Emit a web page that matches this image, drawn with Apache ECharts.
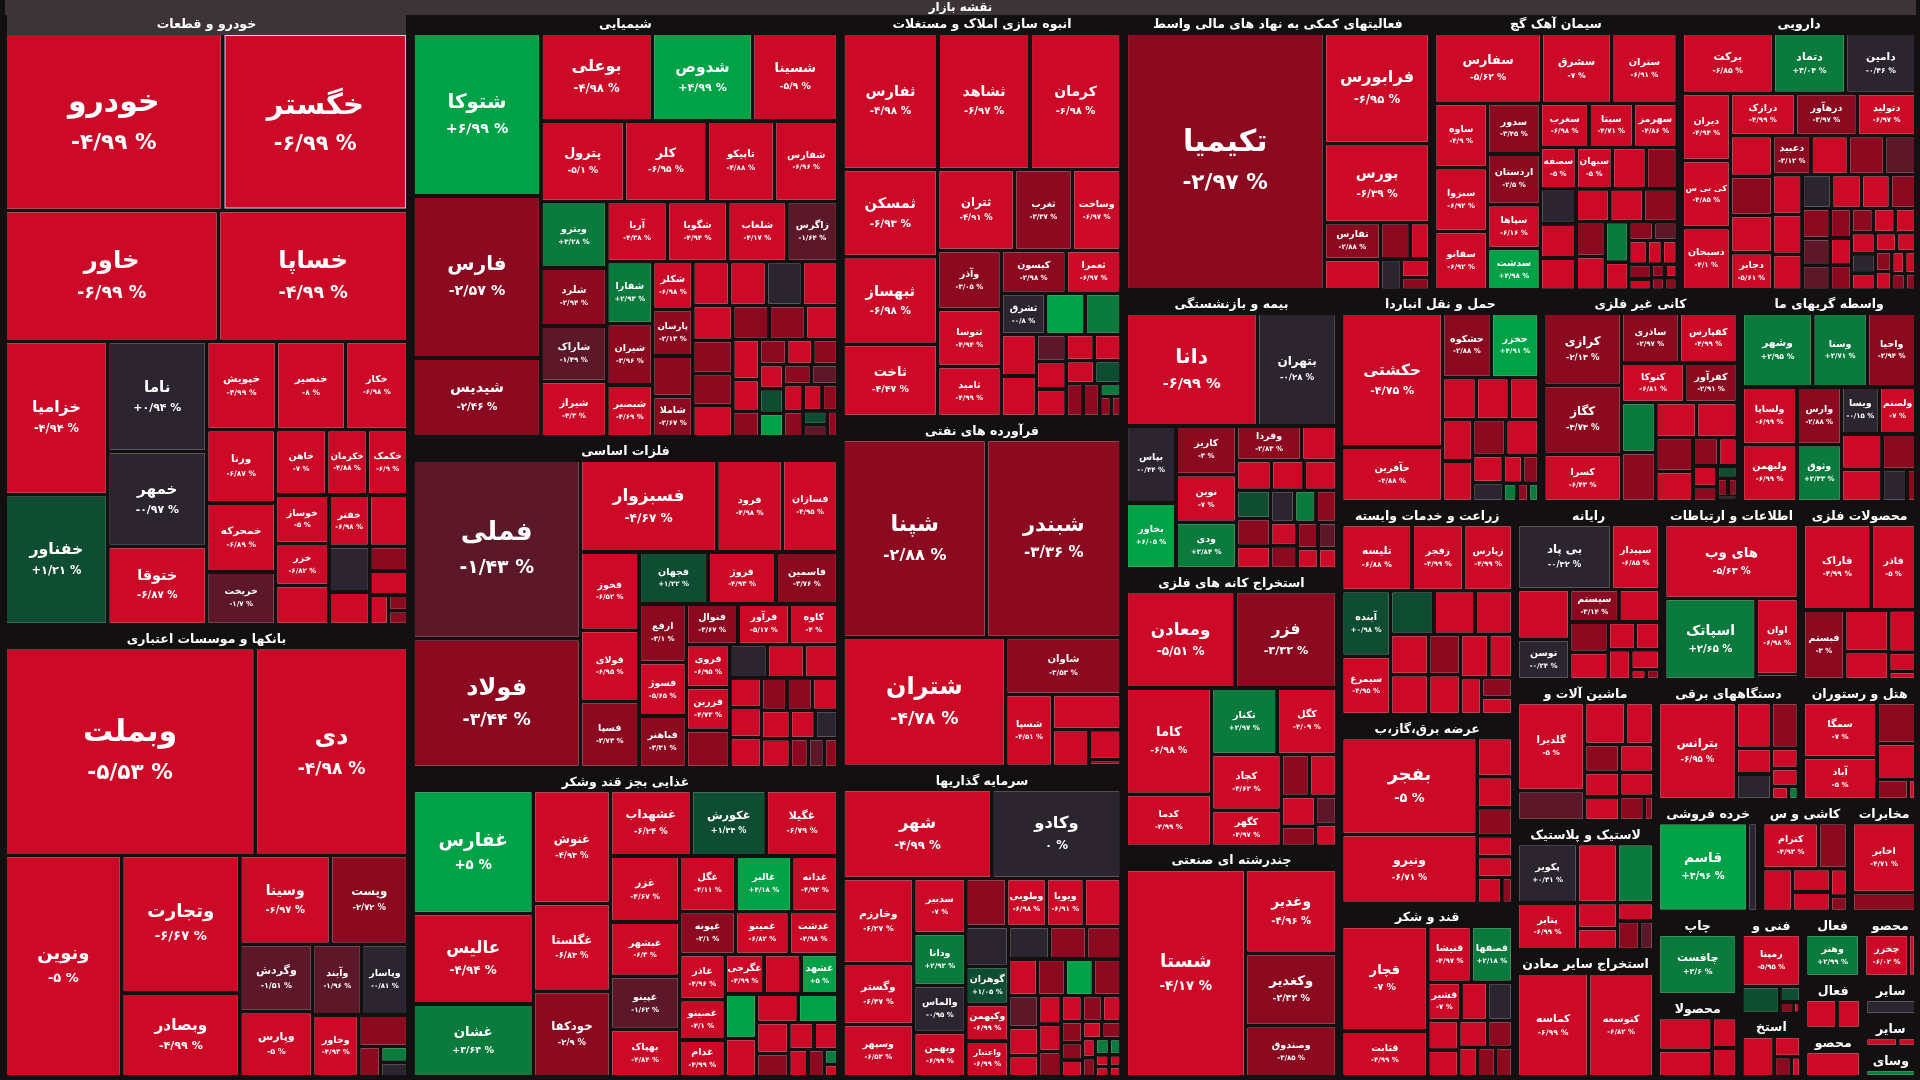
<!DOCTYPE html>
<html>
<head>
<meta charset="utf-8">
<title>نقشه بازار</title>
<script src="https://cdn.jsdelivr.net/npm/echarts@6/dist/echarts.min.js"></script>
<style>
  html, body { margin: 0; padding: 0; background: #131011; }
  #chart { width: 1920px; height: 1080px; }
</style>
</head>
<body>
<div id="chart"></div>
<script>
// tiles: [symbol, visible area, change %]; '' = tile without a label
const tAuto = [['خودرو',36838,-4.99],['خگستر',31296,-6.99],['خاور',26406,-6.99],['خساپا',23380,-4.99],['خزامیا',14696,-4.94],['خفناور',12375,1.21],['ناما',9999,0.94],['خمهر',8550,-0.97],['ختوقا',7030,-6.87],['خپویش',5510,-4.99],['خنصیر',5472,-8],['خکار',4896,-6.98],['ورنا',4464,-6.87],['خمحرکه',4200,-6.89],['خریخت',3150,-1.7],['خاهن',2870,-7],['خکمک',2244,-6.9],['خکرمان',2244,-4.88],['خوساز',2193,-5],['خزر',1850,-6.82],['خفنر',1702,-6.98],['',1728,-5],['',1536,0],['',1056,-5],['',1620,-5],['',714,-3],['',680,-5],['',380,-5],['',180,-3],['',154,-3]];
const tBank = [['وبملت',49200,-5.53],['دی',29748,-4.98],['ونوین',24198,-5],['وتجارت',15008,-6.67],['وبصادر',8960,-4.99],['وسینا',7221,-6.97],['وپست',6142,-2.72],['وگردش',4284,-1.51],['وپارس',4148,-5],['وآیند',2970,-1.96],['وپاسار',2772,-0.81],['وخاور',2394,-4.93],['',1215,-3],['',468,-3],['',276,3],['',253,0]];
const tChem = [['شتوکا',19398,6.99],['فارس',19276,-2.57],['شپدیس',9150,-2.46],['بوعلی',8881,-4.98],['شدوص',7968,4.99],['شسینا',6723,-5.9],['پترول',6004,-5.1],['کلر',5928,-6.95],['تاپیکو',4788,-4.88],['شفارس',4484,-6.96],['ویترو',3782,3.28],['شلرد',3286,-2.94],['شیراز',3135,-4.3],['شاراک',3135,-1.49],['شگویا',3100,-4.94],['آریا',3100,-4.38],['شلعاب',3025,-4.17],['زاگرس',2585,-1.64],['شفارا',2394,2.93],['شیران',2352,-3.96],['شبصیر',1974,-4.69],['شکلر',1548,-6.98],['پارسان',1512,-2.13],['شاملا',1295,-2.67],['',1280,-5],['',1240,-5],['',1280,-5],['',1240,0],['',1085,-5],['',990,-3],['',840,-5],['',960,-5],['',1050,-3],['',484,-3],['',440,-3],['',484,-3],['',462,-5],['',945,-3],['',814,-5],['',400,1.5],['',374,-3],['',391,5],['',360,-1.5],['',330,-5],['',345,-5],['',330,-3],['',160,-3],['',200,1.5],['',1295,-3],['',945,-3],['',616,-5],['',400,-5],['',264,-3],['',168,-1.5]];
const tMetal = [['فملی',28175,-1.43],['فولاد',20125,-3.44],['فسبزوار',11528,-4.67],['فرود',5368,-4.98],['فسازان',4488,-4.95],['فخوز',3996,-6.52],['فولای',3618,-6.95],['فسپا',3348,-3.73],['فجهان',3072,1.22],['فروژ',3024,-4.93],['فاسمین',2736,-3.76],['ارفع',2322,-3.1],['فسوژ',2107,-5.65],['فباهنر',2021,-3.31],['فرآور',1728,-5.17],['فنوال',1728,-3.67],['کاوه',1600,-4],['فروی',1520,-6.95],['فزرین',1512,-4.73],['',960,-5],['',600,-5],['',600,-5],['',600,-5],['',960,0],['',600,-3],['',600,-3],['',500,-5],['',850,-5],['',700,-5],['',450,0],['',350,-3],['',700,-5],['',700,-5],['',300,-1.5],['',250,-3],['',1300,-3]];
const tFood = [['غفارس',13338,5],['عالیس',9690,-4.94],['غشان',7752,3.64],['غنوش',7704,-4.93],['غگلستا',5904,-6.83],['خودکفا',5760,-2.9],['غشهداب',4543,-6.24],['غکورش',4189,1.44],['غگیلا',4012,-6.79],['غزر',3906,-4.67],['غبشهر',3150,-6.3],['غپینو',3087,-1.62],['بهپاک',2750,-4.84],['غگل',2600,-4.11],['غالبر',2583,4.18],['غدانه',2100,-4.92],['غپونه',1938,-2.1],['غمینو',1862,-6.82],['غدشت',1672,-4.98],['غاذر',1640,-4.96],['غصینو',1440,-4.1],['غدام',1320,-4.99],['غگرجی',1188,-4.99],['غشهد',1122,5],['',1122,-5],['',1066,5],['',910,-5],['',442,-5],['',468,-5],['',840,4],['',529,-3],['',345,-5],['',884,-5],['',735,-5],['',280,-3],['',100,3],['',80,-5]];
const tBuild = [['ثفارس',11921,-4.98],['ثشاهد',11528,-6.97],['کرمان',11397,-6.98],['ثبهساز',7470,-6.98],['ثمسکن',7470,-6.93],['ثاخت',6120,-4.47],['ثتران',5548,-4.91],['ثغرب',4104,-3.37],['وساخت',3420,-6.97],['وآذر',3240,-3.05],['ثنوسا',3120,-4.94],['ثامید',2700,-4.99],['کیسون',2340,-2.98],['ثعمرا',1950,-6.97],['ثشرق',1476,-0.8],['',1296,4],['',1152,-5],['',1170,3],['',594,-5],['',528,-5],['',462,-5],['',594,-5],['',504,-5],['',420,1.5],['',1116,-5],['',594,-1.5],['',375,-3],['',375,-3],['',150,3],['',120,-3],['',100,-3]];
const tOil = [['شپنا',27105,-2.88],['شبندر',25350,-3.36],['شتران',19750,-4.78],['شاوان',5883,-3.53],['شسپا',2898,-4.51],['',2048,-5],['',1056,-5],['',729,-5],['',108,-3]];
const tInvest = [['شهر',11890,-4.99],['وکادو',10250,0],['وخارزم',5200,-6.27],['وگستر',3640,-6.47],['وسپهر',3120,-6.53],['سدبیر',2350,-7],['ودانا',2209,2.92],['والماس',1974,-0.95],['وبهمن',1880,-6.99],['وطوبی',1512,-6.98],['ویویا',1428,-6.91],['گوهران',1260,1.05],['وکبهمن',1224,-6.99],['واعتبار',1188,-6.99],['',1548,-3],['',1386,-5],['',1008,0],['',897,-3],['',828,-3],['',690,-1.5],['',775,-5],['',744,-3],['',744,4],['',744,-3],['',600,-5],['',432,-5],['',414,-5],['',432,-5],['',1325,0],['',357,-5],['',306,-5],['',289,-3],['',221,-3],['',378,-3],['',216,-5],['',192,-3],['',117,3],['',91,3],['',336,-3],['',192,-5],['',128,-3],['',72,-5],['',56,-5],['',128,-5],['',60,-5],['',50,-5]];
const tFinAux = [['تکیمیا',48705,-2.97],['فرابورس',10710,-6.95],['بورس',7548,-6.39],['تفارس',1700,-2.88],['',816,-3],['',510,-5],['',1400,-5],['',448,0],['',360,-5],['',216,-3]];
const tCement = [['سفارس',6864,-5.62],['سشرق',4422,-7],['ستران',4092,-6.91],['ساوه',2989,-4.9],['سبزوا',2940,-6.92],['سفانو',2695,-6.92],['اردستان',2300,-2.5],['سدور',2300,-3.45],['سپاها',1950,-6.16],['سدشت',1850,4.98],['سغرب',1804,-6.98],['سیتا',1640,-4.71],['سهرمز',1599,-4.86],['سبهان',1216,-5],['سصفها',1216,-5],['',1140,-5],['',1026,-3],['',992,0],['',754,-5],['',899,-5],['',870,-5],['',864,-3],['',728,3],['',868,-5],['',476,-5],['',308,-3],['',960,-5],['',780,-3],['',289,-5],['',221,-5],['',204,-3],['',140,-5],['',289,-1.5],['',221,-5],['',96,-3],['',80,-3],['',80,-5],['',70,-3]];
const tPharma = [['برکت',4872,-6.85],['دتماد',3808,3.04],['دامین',3696,-0.46],['کی بی سی',2793,-4.85],['دیران',2793,-4.94],['دسبحان',2565,-4.1],['درازک',2352,-4.99],['درهآور',2223,-3.97],['دتولید',2107,-6.97],['دجابر',1260,-5.61],['دعبید',1188,-3.12],['',1376,-5],['',1333,-3],['',1120,-3],['',910,-5],['',910,-5],['',945,-1.5],['',759,-5],['',736,-5],['',644,-3],['',621,-3],['',1152,-5],['',805,-5],['',500,-1.5],['',360,-5],['',396,-5],['',360,-3],['',340,-5],['',300,0],['',260,-5],['',200,-3],['',1260,-5],['',759,0],['',440,-3],['',540,-1.5],['',360,-3],['',340,-5],['',225,-5],['',165,-5],['',180,-5],['',255,-5],['',119,-3],['',136,-5],['',85,-3]];
const tInsur = [['دانا',14605,-6.99],['بتهران',8664,-0.28],['بپاس',3550,-0.44],['بخاور',3000,6.05],['کاریز',2666,-3],['نوین',2604,-7],['ودی',2542,2.84],['وفردا',1980,-2.83],['',1008,-5],['',840,-5],['',780,1.5],['',750,-3],['',784,-5],['',598,0],['',506,-3],['',784,-5],['',527,3],['',465,-5],['',600,-5],['',450,-3],['',400,-3],['',350,-1.5],['',300,-5],['',250,-5]];
const tMine = [['ومعادن',9546,-5.51],['فزر',8880,-3.32],['کاما',8214,-6.98],['کدما',3870,-4.99],['تکنار',3784,2.97],['کگل',3432,-4.09],['کچاد',3354,-4.63],['کگهر',2080,-4.97],['',897,-3],['',780,-5],['',486,-3],['',405,-1.5],['',880,-5],['',300,-5]];
const tMulti = [['شستا',23575,-4.17],['وغدیر',6966,-4.96],['وکغدیر',5984,-2.42],['وصندوق',4136,-3.85]];
const tTransport = [['حکشتی',12672,-4.75],['حآفرین',4947,-4.88],['حشکوه',2728,-2.88],['حخزر',2666,4.91],['',1140,-5],['',988,-5],['',988,-5],['',925,-5],['',1110,-5],['',962,-5],['',925,-3],['',625,-5],['',375,-5],['',300,-3],['',400,0],['',144,3],['',112,-3],['',96,3]];
const tNonMetal = [['کرازی',5040,-2.13],['کگاز',4818,-3.73],['کسرا',3212,-6.43],['کفپارس',2491,-4.99],['ساذری',2491,-2.97],['کتوکا',2124,-6.81],['کفرآور',1728,-2.91],['',1410,3],['',1152,-5],['',1152,-5],['',1380,-3],['',992,-3],['',528,-3],['',360,-5],['',864,-5],['',340,-5],['',136,1.5],['',102,-3],['',220,-3],['',80,-3],['',40,0]];
const tMonetary = [['وشهر',4690,2.95],['وسنا',3570,2.71],['واحیا',3150,-2.94],['ولساپا',2750,-6.99],['ولبهمن',2700,-6.99],['وارس',2200,-2.88],['وثوق',2160,2.33],['ویسا',1462,-0.15],['ولصنم',1419,-7],['',1152,-5],['',960,-3],['',1044,-5],['',588,0],['',168,-3]];
const tFarm = [['تلیسه',4050,-6.88],['زفجر',2916,-4.99],['زپارس',2754,-4.99],['آینده',2703,0.98],['سیمرغ',2397,-4.95],['',1530,1.5],['',1440,-5],['',1305,-5],['',1204,-5],['',775,-5],['',950,-5],['',992,-3],['',1216,-5],['',980,-5],['',558,-5],['',360,-5],['',420,-3]];
const tPower = [['بفجر',11997,-5],['ونیرو',8385,-6.71],['',1085,-5],['',837,-5],['',744,-3],['',527,-5],['',527,-5],['',440,-5],['',154,-3]];
const tSugar = [['قچار',7742,-7],['قثابت',3239,-4.99],['قنیشا',1911,-4.97],['قصفها',1813,2.18],['قشیر',928,-7],['',672,0],['',640,-5],['',572,-5],['',528,-5],['',440,-3],['',728,-5],['',364,-5],['',312,-3],['',338,-3]];
const tComputer = [['بی پاد',5733,-0.32],['سپیدار',2835,-6.85],['توسن',1824,-0.24],['سیستم',1368,-3.14],['',2314,-5],['',952,-3],['',840,-5],['',510,-5],['',578,-5],['',1110,-5],['',504,-5],['',72,-5],['',420,-5],['',60,-3]];
const tIT = [['های وب',9159,-5.63],['اسپاتک',6786,2.65],['اوان',2812,-6.98],['',100,-1.5]];
const tMetalProd = [['فاراک',5084,-4.99],['فاذر',3280,-5],['فبستم',2412,-3],['',1482,-5],['',936,-5],['',874,-5],['',345,-5],['',115,-5]];
const tMachine = [['گلدیرا',5568,-5],['',1480,-5],['',960,-5],['',775,-3],['',750,-5],['',1755,-1.5],['',651,-5],['',630,-5],['',682,-5],['',440,-3],['',132,-3]];
const tRubber = [['پکویر',2968,0.31],['پتایر',2296,-6.99],['',1908,-5],['',1696,3],['',756,-5],['',448,-5],['',612,-5],['',432,-3],['',240,-1.5]];
const tOtherMine = [['کماسه',6767,-6.99],['کتوسعه',6161,-6.82]];
const tElectric = [['بترانس',7125,-6.95],['',1344,-5],['',1008,-3],['',704,0],['',384,-5],['',336,-5],['',704,-5],['',130,-5],['',56,3]];
const tHotel = [['سمگا',3484,-7],['آباد',2613,-5],['',1258,-3],['',1088,-5],['',442,-3],['',68,-5]];
const tRetail = [['قاسم',7476,4.96],['',712,0]];
const tTile = [['کترام',2236,-4.93],['',1075,-3],['',1025,-5],['',672,-5],['',315,-5],['',544,-5],['',150,-3]];
const tTelecom = [['اخابر',3944,-4.71],['',928,-3]];
const tPrint = [['چافست',4466,2.6]];
const tPaper = [['',1378,-5],['',1104,-5],['',504,-5],['',528,-5]];
const tEngineer = [['رمپنا',2530,-5.95],['',748,1.5],['',187,1.5],['',70,-3],['',20,-5]];
const tOilGas = [['',1131,-5],['',414,-5],['',234,-3],['',108,-5]];
const tArt = [['وهنر',1785,2.99]];
const tWood = [['چخزر',1260,-6.02],['',140,-5]];
const tContract = [['',420,-5],['',300,-5]];
const tChemProd = [['',1353,-5]];
const tOtherFin = [['',943,0]];
const tOtherMineral = [['',460,-5],['',230,-5]];
const tVehicle = [['',726,3]];

const sectorNames = ['خودرو و قطعات','بانکها و موسسات اعتباری','شیمیایی','فلزات اساسی','غذایی بجز قند وشکر','انبوه سازی املاک و مستغلات','فرآورده های نفتی','سرمایه گذاریها','فعالیتهای کمکی به نهاد های مالی واسط','سیمان آهک گچ','دارویی','بیمه و بازنشستگی','استخراج کانه های فلزی','چندرشته ای صنعتی','حمل و نقل انبارداری و ارتباطات','کانی غیر فلزی','واسطه گریهای مالی و پولی','زراعت و خدمات وابسته','عرضه برق،گاز،بخار و آب گرم','قند و شکر','رایانه','اطلاعات و ارتباطات','محصولات فلزی','ماشین آلات و تجهیزات','لاستیک و پلاستیک','استخراج سایر معادن','دستگاههای برقی','هتل و رستوران','خرده فروشی','کاشی و سرامیک','مخابرات','چاپ','محصولات کاغذی','فنی و مهندسی','استخراج نفت گاز و خدمات جنبی','فعالیتهای هنری، سرگرمی و خلاقانه','محصولات چوبی','فعالیت پیمانکاری','محصولات شیمیایی','سایر واسطه گریهای مالی','سایر محصولات کانی','وسایل ارتباطی'];
const sectorAreas = [166664,122600,122000,94419,88452,76461,65835,58443,57456,46056,44460,39952,39776,33088,28380,27864,25112,24900,22032,20304,17400,16385,13920,13225,12100,11900,11564,9408,7735,6643,5096,4624,4556,4316,2704,2544,2438,2072,1935,1406,1170,1125];
const sectorTiles = [tAuto,tBank,tChem,tMetal,tFood,tBuild,tOil,tInvest,tFinAux,tCement,tPharma,tInsur,tMine,tMulti,tTransport,tNonMetal,tMonetary,tFarm,tPower,tSugar,tComputer,tIT,tMetalProd,tMachine,tRubber,tOtherMine,tElectric,tHotel,tRetail,tTile,tTelecom,tPrint,tPaper,tEngineer,tOilGas,tArt,tWood,tContract,tChemProd,tOtherFin,tOtherMineral,tVehicle];

const BG = '#131011';
const BAR = '#3d3437';
const FONT = '"DejaVu Sans", sans-serif';
const FA = '۰۱۲۳۴۵۶۷۸۹';
const TILE_GAP = 4;

function pctText(v) {
  const sign = v > 0 ? '+' : (v < 0 ? '-' : '');
  const s = String(Math.round(Math.abs(v) * 100) / 100).replace('.', '/');
  return sign + s.replace(/[0-9]/g, d => FA[d]) + ' %';
}

function tileColor(v) {
  if (v <= -4) return '#cc0a27';
  if (v <= -2) return '#8c0a1f';
  if (v <= -1) return '#5c1729';
  if (v < 0.95) return '#2c2530';
  if (v < 2) return '#0e4d32';
  if (v < 4) return '#0a7b3c';
  return '#00a248';
}

// visible area -> area the tile takes in the layout (tile plus its share of the gaps)
function layoutArea(a) {
  const s = Math.sqrt(a) + TILE_GAP;
  return s * s;
}

function tileLabel(name, chg, w, h) {
  let ns = Math.min(30, Math.max(9.5, 0.16 * Math.min(w, h * 1.2)));
  ns = Math.min(ns, (w - 6) / (name.length * 0.58));
  if (ns < 7 || h < 18) return { show: false };
  const ps = Math.max(7, ns * 0.72);
  const nl = Math.round(ns * 1.5), pl = Math.round(ps * 1.6);
  const pad = Math.max(0, Math.floor((h - nl - pl) / 2));
  const st = { fontWeight: 'bold', color: '#fff', fontFamily: FONT };
  return {
    show: true,
    formatter: '{n|' + name + '}\n{p|' + pctText(chg) + '}',
    padding: [pad, 0, 0, 0],
    rich: {
      n: Object.assign({ fontSize: ns, lineHeight: nl }, st),
      p: Object.assign({ fontSize: ps, lineHeight: pl }, st)
    }
  };
}

function buildData(rects) {
  return [{
    name: 'نقشه بازار',
    children: sectorNames.map((sn, si) => {
      const tiles = sectorTiles[si];
      const raw = tiles.reduce((a, t) => a + layoutArea(t[1]), 0);
      const k = sectorAreas[si] / raw;
      const sector = {
        name: sn,
        children: tiles.map(t => {
          const item = { name: t[0], value: layoutArea(t[1]) * k, itemStyle: { color: tileColor(t[2]) } };
          if (t[0] === 'خگستر') { item.itemStyle.borderColor = '#d6cfee'; item.itemStyle.borderWidth = 1; }
          const r = rects && t[0] ? rects[t[0]] : null;
          item.label = r ? tileLabel(t[0], t[2], r[0], r[1]) : { show: false };
          return item;
        })
      };
      if (si === 0) sector.upperLabel = { backgroundColor: BAR };
      return sector;
    })
  }];
}

const chart = echarts.init(document.getElementById('chart'));

const option = {
  backgroundColor: BG,
  animation: false,
  series: [{
    type: 'treemap',
    left: 5, right: 4, top: 0, bottom: 3,
    roam: false,
    nodeClick: false,
    breadcrumb: { show: false },
    squareRatio: 1,
    drillDownIcon: '',
    label: { show: true, position: 'inside', color: '#fff', fontFamily: FONT, fontWeight: 'bold', overflow: 'truncate', ellipsis: '' },
    levels: [
      { itemStyle: { borderWidth: 0, gapWidth: 0, borderColor: BG } },
      {
        itemStyle: { borderWidth: 0, gapWidth: 5, borderColor: BG },
        upperLabel: { show: true, height: 15, backgroundColor: BAR, color: '#fff', fontSize: 12, fontWeight: 'bold', fontFamily: FONT, position: ['50%', '50%'], align: 'center', verticalAlign: 'middle', padding: 0 }
      },
      {
        itemStyle: { borderWidth: 2, gapWidth: TILE_GAP, borderColor: BG },
        upperLabel: { show: true, height: 20, color: '#fff', fontSize: 12.5, fontWeight: 'bold', fontFamily: FONT, position: ['50%', '50%'], align: 'center', verticalAlign: 'middle', padding: [0, 2, 0, 2], overflow: 'truncate', ellipsis: '' }
      },
      { itemStyle: { borderWidth: 0, gapWidth: 0 } }
    ],
    data: buildData(null)
  }]
};

chart.setOption(option);

// second pass: size and centre each label from the laid-out tile
const rects = {};
try {
  const tree = chart.getModel().getSeriesByIndex(0).getData().tree;
  tree.root.eachNode(node => {
    if (node.name && (!node.children || !node.children.length)) {
      const l = node.getLayout();
      if (l) rects[node.name] = [l.width, l.height];
    }
  });
} catch (e) {
  const total = sectorAreas.reduce((a, b) => a + b, 0);
  const px = (1910 * 1060) / total;
  sectorTiles.forEach((tiles, si) => {
    const raw = tiles.reduce((a, t) => a + t[1], 0);
    tiles.forEach(t => {
      if (t[0]) { const s = Math.sqrt(t[1] * sectorAreas[si] / raw * px); rects[t[0]] = [s, s]; }
    });
  });
}
chart.setOption({ series: [{ data: buildData(rects) }] });

window.addEventListener('resize', () => chart.resize());
</script>
</body>
</html>
